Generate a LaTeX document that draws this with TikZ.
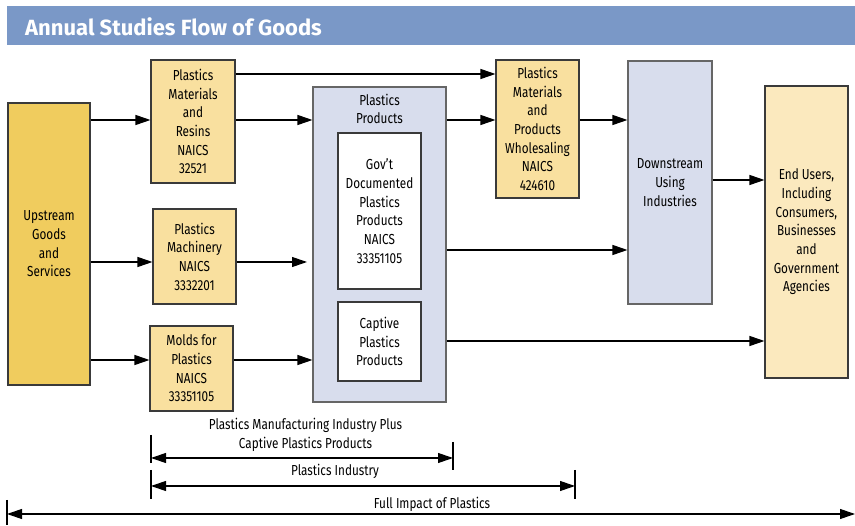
\documentclass[tikz,border=0pt]{standalone}
\usepackage{fontspec}
\setmainfont[FakeStretch=0.81]{Fira Sans}
\newfontfamily\titlefont{Fira Sans}
\usetikzlibrary{arrows.meta}
\definecolor{titlebar}{HTML}{7A98C7}
\definecolor{updark}{HTML}{F0CC5E}
\definecolor{ylight}{HTML}{F9E09F}
\definecolor{ypale}{HTML}{FBE9BE}
\definecolor{bluebox}{HTML}{D8DDED}
\definecolor{edge}{HTML}{3A3A3A}
\tikzset{
  x=1pt, y=-1pt,
  base/.style={draw=edge, line width=1.1pt, inner sep=0pt, align=center,
    font=\fontsize{14.5}{18.7}\selectfont},
  upbox/.style={base, fill=updark},
  ybox/.style={base, fill=ylight},
  pbox/.style={base, fill=ypale},
  bbox/.style={base, fill=bluebox, draw=gray!80!black},
  wbox/.style={base, fill=white},
  lbl/.style={inner sep=0pt, align=center, font=\fontsize{14.5}{18.7}\selectfont},
  arr/.style={line width=1.1pt, -{Triangle[length=15pt,width=10pt]}},
  darr/.style={line width=1.1pt, {Triangle[length=15pt,width=10pt]}-{Triangle[length=15pt,width=10pt]}},
  tick/.style={line width=1.1pt}
}
\begin{document}
\begin{tikzpicture}
\useasboundingbox (0,0) rectangle (855,526);
% title bar
\fill[titlebar] (7,6) rectangle (855,45);
\node[anchor=west, text=white, inner sep=0pt, font=\titlefont\fontsize{22}{24}\selectfont\bfseries] (title) at (25,27) {Annual Studies Flow of Goods};

% boxes
\node[upbox, minimum width=82pt, minimum height=282pt] (up) at (49,244) {Upstream\\Goods\\and\\Services};
\node[ybox, minimum width=84pt, minimum height=123pt] (resins) at (193,121.5) {Plastics\\Materials\\and\\Resins\\NAICS\\32521};
\node[ybox, minimum width=83pt, minimum height=95pt] (mach) at (194.5,256.5) {Plastics\\Machinery\\NAICS\\3332201};
\node[ybox, minimum width=83pt, minimum height=85pt] (molds) at (191.5,368.5) {Molds for\\Plastics\\NAICS\\33351105};
\node[bbox, minimum width=133pt, minimum height=315pt] (pp) at (379.5,244.5) {};
\node[lbl] (pplbl) at (379.5,109) {Plastics\\Products};
\node[wbox, minimum width=83pt, minimum height=156pt] (govt) at (379.5,211) {Gov't\\Documented\\Plastics\\Products\\NAICS\\33351105};
\node[wbox, minimum width=83pt, minimum height=79pt] (capt) at (379.5,341.5) {Captive\\Plastics\\Products};
\node[ybox, minimum width=83pt, minimum height=138pt] (whole) at (537.5,129) {Plastics\\Materials\\and\\Products\\Wholesaling\\NAICS\\424610};
\node[bbox, minimum width=84pt, minimum height=243pt] (down) at (670,182.5) {Downstream\\Using\\Industries};
\node[pbox, minimum width=83pt, minimum height=292pt] (end) at (806.5,232) {End Users,\\Including\\Consumers,\\Businesses\\and\\Government\\Agencies};

% flow arrows
\draw[arr] (up.east |- 0,120) -- (resins.west |- 0,120);
\draw[arr] (resins.east |- 0,120) -- (pp.west |- 0,120);
\draw[arr] (resins.east |- 0,74) -- (whole.west |- 0,74);
\draw[arr] (pp.east |- 0,120) -- (whole.west |- 0,120);
\draw[arr] (whole.east |- 0,120) -- (down.west |- 0,120);
\draw[arr] (pp.east |- 0,250) -- (down.west |- 0,250);
\draw[arr] (up.east |- 0,262) -- (mach.west |- 0,262);
\coordinate (machend) at (307,262);
\draw[arr] (mach.east |- 0,262) -- (machend);
\draw[arr] (up.east |- 0,360) -- (molds.west |- 0,360);
\draw[arr] (molds.east |- 0,360) -- (pp.west |- 0,360);
\draw[arr] (pp.east |- 0,341) -- (end.west |- 0,341);
\draw[arr] (down.east |- 0,180) -- (end.west |- 0,180);

% bottom spans
\node[lbl] (s1lbl) at (305.5,435) {Plastics Manufacturing Industry Plus\\Captive Plastics Products};
\coordinate (s1l) at (151,458);
\coordinate (s1r) at (453,458);
\draw[tick] (151,435) -- (151,463);
\draw[tick] (453,442) -- (453,470);
\draw[darr] (s1l) -- (s1r);

\node[lbl] (s2lbl) at (335,471) {Plastics Industry};
\coordinate (s2l) at (151,486);
\coordinate (s2r) at (575,486);
\draw[tick] (151,470) -- (151,499);
\draw[tick] (575,470) -- (575,499);
\draw[darr] (s2l) -- (s2r);

\node[lbl] (s3lbl) at (432,504) {Full Impact of Plastics};
\coordinate (s3l) at (7,514);
\coordinate (s3r) at (855,514);
\draw[tick] (7,500) -- (7,525);
\draw[darr] (s3l) -- (s3r);
\end{tikzpicture}
\end{document}
